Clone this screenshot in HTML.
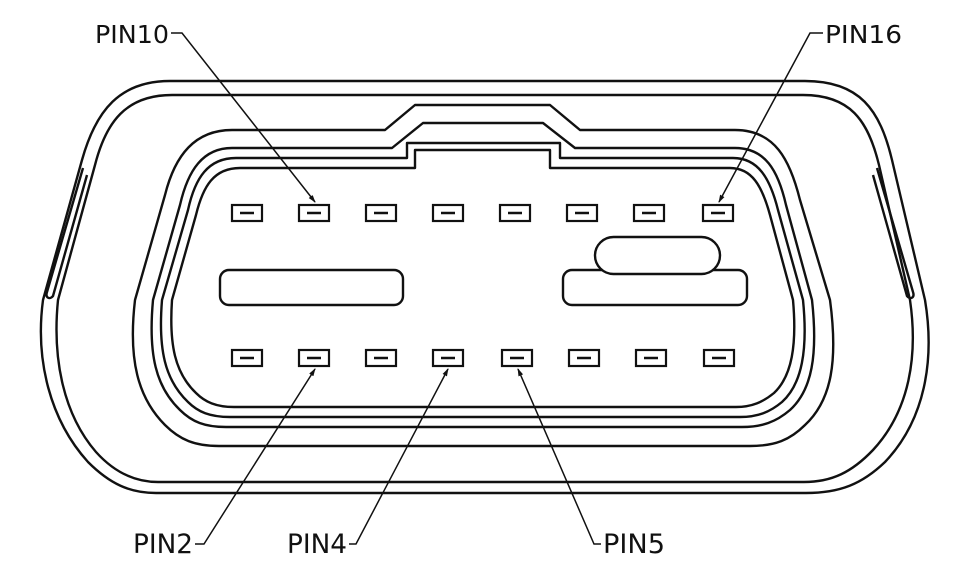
<!DOCTYPE html>
<html><head><meta charset="utf-8"><style>
html,body{margin:0;padding:0;background:#fff;}
svg{display:block}
text{font-family:"DejaVu Sans","Liberation Sans",sans-serif;font-size:25px;fill:#111}
</style></head><body>
<svg width="976" height="582" viewBox="0 0 976 582" xmlns="http://www.w3.org/2000/svg">
<defs>
<marker id="ar" markerWidth="8" markerHeight="8" refX="7" refY="4" orient="auto" markerUnits="userSpaceOnUse">
<path d="M0,1.5 L8,4 L0,6.5 Z" fill="#111"/>
</marker>
</defs>
<g fill="none" stroke="#111" stroke-width="2.4" stroke-linejoin="round">
<!-- outer shell -->
<path d="M170,81 H805 C860,81 880,110 892,160 L925,300 C935,360 925,420 885,462 C862,484 840,493 806,493 H156 C130,493 110,484 88,462 C50,420 35,360 43,300 L82,160 C96,110 120,81 170,81 Z"/>
<path d="M172,95 H803 C850,95 868,120 879,165 L910,300 C918,355 910,410 873,450 C852,472 832,482 804,482 H158 C134,482 114,472 96,452 C64,415 52,360 58,300 L95,165 C106,122 126,95 172,95 Z"/>
<!-- side tabs -->
<path d="M83,168 L47,292 C45,298 50,300 53,296 L87,175"/>
<path d="M877,168 L913,292 C915,298 910,300 907,296 L873,175"/>
<!-- C -->
<path d="M232,130 H385 L415,105 H550 L580,130 H735 C775,130 790,160 800,200 L830,300 C838,360 832,400 805,425 C790,440 775,446 750,446 H219 C195,446 180,440 165,425 C138,398 128,360 135,300 L165,195 C175,155 195,130 232,130 Z"/>
<!-- D -->
<path d="M232,148 H392 L423,123 H543 L575,148 H735 C765,148 778,170 786,205 L812,300 C818,355 812,390 790,410 C776,422 762,427 742,427 H226 C205,427 192,422 180,410 C156,387 148,355 153,300 L180,205 C188,170 203,148 232,148 Z"/>
<!-- E -->
<path d="M236,158 H407 V143 H560 V158 H733 C758,158 770,178 778,210 L803,300 C808,350 802,384 782,402 C770,412 758,417 740,417 H230 C210,417 198,412 188,402 C165,380 158,350 162,300 L188,210 C195,178 208,158 236,158 Z"/>
<!-- F -->
<path d="M240,168 H415 V150 H550 V168 H730 C752,168 762,186 770,215 L793,300 C797,345 792,376 774,393 C763,402 752,407 736,407 H234 C216,407 205,402 196,393 C175,373 169,345 172,300 L196,215 C203,186 214,168 240,168 Z"/>
<!-- slots -->
<rect x="220" y="270" width="183" height="35" rx="9"/>
<rect x="563" y="270" width="184" height="35" rx="9"/>
<rect x="595" y="237" width="125" height="37" rx="18.5" fill="#fff"/>
</g>
<g fill="none" stroke="#111" stroke-width="2.2">
<rect x="232" y="205" width="30" height="16"/>
<rect x="299" y="205" width="30" height="16"/>
<rect x="366" y="205" width="30" height="16"/>
<rect x="433" y="205" width="30" height="16"/>
<rect x="500" y="205" width="30" height="16"/>
<rect x="567" y="205" width="30" height="16"/>
<rect x="634" y="205" width="30" height="16"/>
<rect x="703" y="205" width="30" height="16"/>
<rect x="232" y="350" width="30" height="16"/>
<rect x="299" y="350" width="30" height="16"/>
<rect x="366" y="350" width="30" height="16"/>
<rect x="433" y="350" width="30" height="16"/>
<rect x="502" y="350" width="30" height="16"/>
<rect x="569" y="350" width="30" height="16"/>
<rect x="636" y="350" width="30" height="16"/>
<rect x="704" y="350" width="30" height="16"/>
</g>
<g stroke="#111" stroke-width="2.4">
<path d="M240,213h14M307,213h14M374,213h14M441,213h14M508,213h14M575,213h14M642,213h14M711,213h14"/>
<path d="M240,358h14M307,358h14M374,358h14M441,358h14M510,358h14M577,358h14M644,358h14M712,358h14"/>
</g>
<g fill="none" stroke="#111" stroke-width="1.5">
<path d="M171,33 H182 L315,202" marker-end="url(#ar)"/>
<path d="M823,33 H810 L719,202" marker-end="url(#ar)"/>
<path d="M195,544 H204 L315,369" marker-end="url(#ar)"/>
<path d="M349,544 H356 L448,369" marker-end="url(#ar)"/>
<path d="M601,544 H594 L518,369" marker-end="url(#ar)"/>
</g>
<text x="95" y="43" textLength="74" lengthAdjust="spacingAndGlyphs">PIN10</text>
<text x="825" y="43" textLength="77" lengthAdjust="spacingAndGlyphs">PIN16</text>
<text x="133" y="553" textLength="60" lengthAdjust="spacingAndGlyphs" style="font-size:27px">PIN2</text>
<text x="287" y="553" textLength="60" lengthAdjust="spacingAndGlyphs" style="font-size:27px">PIN4</text>
<text x="603" y="553" textLength="62" lengthAdjust="spacingAndGlyphs" style="font-size:27px">PIN5</text>
</svg>
</body></html>
